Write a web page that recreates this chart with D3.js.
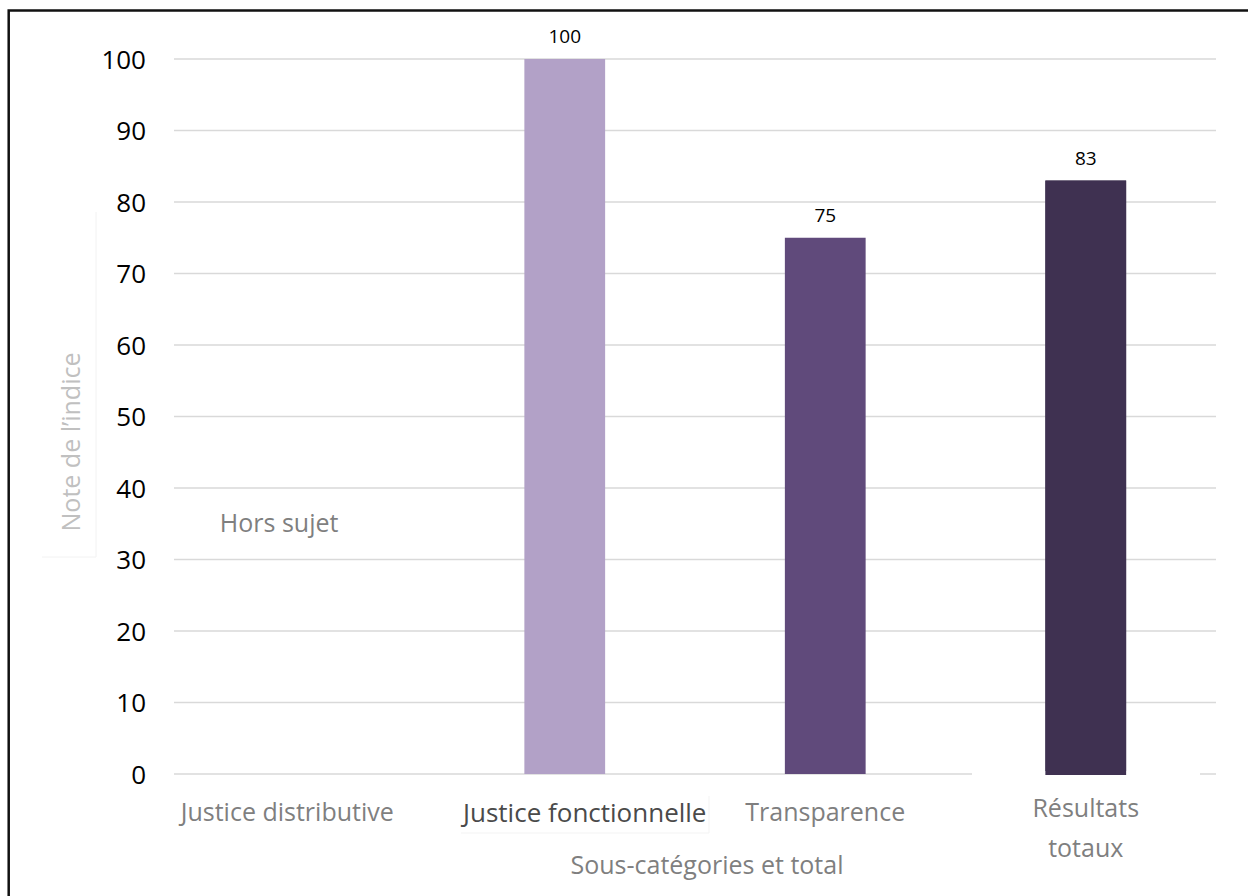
<!DOCTYPE html>
<html>
<head>
<meta charset="utf-8">
<script src="https://cdn.jsdelivr.net/npm/d3@7"></script>
<style>
  html, body { margin: 0; padding: 0; background: #fff; }
  svg { display: block; }
  text { font-family: "Open Sans", Lato, sans-serif; }
</style>
</head>
<body>
<svg id="chart" width="1248" height="896"></svg>
<script>
// Index scores by sub-category and total
const categories = ["Justice distributive", "Justice fonctionnelle", "Transparence", "Résultats totaux"];
const scores = [null, 100, 75, 83];
const barColors = ["#B2A1C7", "#B2A1C7", "#604A7B", "#3F3151"];
const yTicks = [0, 10, 20, 30, 40, 50, 60, 70, 80, 90, 100];
const categoryLines = [["Justice distributive"], ["Justice fonctionnelle"], ["Transparence"], ["Résultats", "totaux"]];
const missingLabel = "Hors sujet";
const yTitle = "Note de l\u2019indice";
const xTitle = "Sous-catégories et total";

const svg = d3.select("#chart");
const plot = { left: 174, right: 1216, top: 59, bottom: 774 };

// Outer frame (cut by the right and bottom edges of the page)
svg.append("rect")
  .attr("x", 8.7).attr("y", 10.5)
  .attr("width", 1260).attr("height", 900)
  .attr("fill", "none").attr("stroke", "#111").attr("stroke-width", 2.5);

const x = d3.scaleBand()
  .domain(categories)
  .range([plot.left, plot.right])
  .paddingInner(0.69)
  .paddingOuter(0.345);

const y = d3.scaleLinear()
  .domain([0, 100])
  .range([plot.bottom, plot.top]);

// Horizontal gridlines
svg.append("g")
  .selectAll("line")
  .data(yTicks)
  .join("line")
  .attr("x1", plot.left).attr("x2", plot.right)
  .attr("y1", d => y(d)).attr("y2", d => y(d))
  .attr("stroke", "#d9d9d9").attr("stroke-width", 1.4);

// Y axis labels
const yAxis = d3.axisLeft(y).tickValues(yTicks).tickSize(0).tickPadding(0);
const yg = svg.append("g").attr("transform", `translate(146,0)`).call(yAxis);
yg.select(".domain").remove();
yg.selectAll("text")
  .attr("font-size", 26)
  .attr("fill", "#000")
  .attr("font-family", "'Open Sans', Lato, sans-serif")
  .attr("dy", "0.36em");

// Bars
const barData = categories.map((c, i) => ({ c, v: scores[i], color: barColors[i] }))
  .filter(d => d.v !== null);

svg.append("g")
  .selectAll("rect")
  .data(barData)
  .join("rect")
  .attr("x", d => x(d.c))
  .attr("y", d => y(d.v))
  .attr("width", x.bandwidth())
  .attr("height", d => y(0) - y(d.v))
  .attr("fill", d => d.color);

// Value labels
svg.append("g")
  .selectAll("text")
  .data(barData)
  .join("text")
  .attr("x", d => x(d.c) + x.bandwidth() / 2)
  .attr("y", d => y(d.v) - 16)
  .attr("text-anchor", "middle")
  .attr("font-size", 19)
  .attr("fill", "#000")
  .text(d => d.v);

// Label for the category without a score
svg.append("text")
  .attr("x", x(categories[0]) - 44)
  .attr("y", y(33.9))
  .attr("font-size", 25)
  .attr("fill", "#7f7f7f")
  .text(missingLabel);

// White label box behind the last category name breaks the baseline
svg.append("rect")
  .attr("x", 972).attr("y", 771)
  .attr("width", 228).attr("height", 6)
  .attr("fill", "#fff");
// Redraw the last bar's foot over the box
svg.append("rect")
  .attr("x", x(categories[3])).attr("y", y(scores[3]))
  .attr("width", x.bandwidth()).attr("height", y(0) - y(scores[3]) + 1)
  .attr("fill", barColors[3]);

// Faint box edges around the second category name
svg.append("path")
  .attr("d", "M461,833 H709 V796")
  .attr("fill", "none").attr("stroke", "#f3f3f3").attr("stroke-width", 1);

// Category labels
const catG = svg.append("g");
const labelPos = [
  { dx: -17, y: 821, size: 25, color: "#7f7f7f" },
  { dx: 20, y: 822, size: 26, color: "#4a4a4a" },
  { dx: 0, y: 821, size: 25, color: "#7f7f7f" },
  { dx: 0, y: 817, size: 25, color: "#7f7f7f" }
];
categoryLines.forEach((lines, i) => {
  const p = labelPos[i];
  const cx = x(categories[i]) + x.bandwidth() / 2 + p.dx;
  const t = catG.append("text")
    .attr("text-anchor", "middle")
    .attr("font-size", p.size)
    .attr("fill", p.color);
  lines.forEach((ln, j) => {
    t.append("tspan").attr("x", cx).attr("y", p.y + j * 40).text(ln);
  });
});

// Axis titles
svg.append("text")
  .attr("x", 707).attr("y", 874)
  .attr("text-anchor", "middle")
  .attr("font-size", 25)
  .attr("fill", "#7f7f7f")
  .text(xTitle);

// Faint frame around the vertical title
svg.append("path")
  .attr("d", "M96,212 V557 H42")
  .attr("fill", "none").attr("stroke", "#f2f2f2").attr("stroke-width", 1);

svg.append("text")
  .attr("transform", "translate(80,442) rotate(-90)")
  .attr("text-anchor", "middle")
  .attr("font-size", 25)
  .attr("fill", "#c0c0c0")
  .text(yTitle);
</script>
</body>
</html>
